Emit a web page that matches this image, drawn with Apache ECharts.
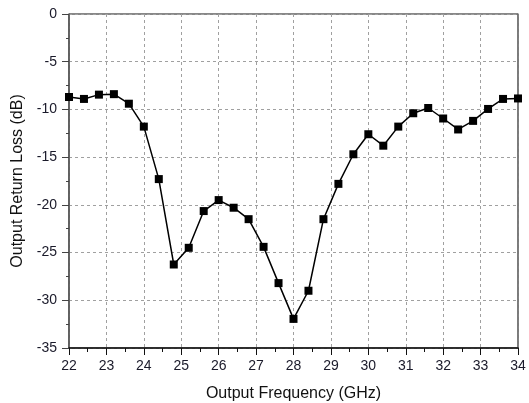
<!DOCTYPE html>
<html><head><meta charset="utf-8">
<script src="https://cdn.jsdelivr.net/npm/echarts@6/dist/echarts.min.js"></script>
<style>html,body{margin:0;padding:0;background:#fff}#c{width:529px;height:403px}</style>
</head><body><div id="c"></div>
<script>
const freq = [22,22.4,22.8,23.2,23.6,24,24.4,24.8,25.2,25.6,26,26.4,26.8,27.2,27.6,28,28.4,28.8,29.2,29.6,30,30.4,30.8,31.2,31.6,32,32.4,32.8,33.2,33.6,34];
const returnLoss = [-8.7,-8.9,-8.45,-8.4,-9.4,-11.8,-17.3,-26.25,-24.5,-20.65,-19.5,-20.3,-21.5,-24.4,-28.2,-31.95,-29.0,-21.5,-17.8,-14.7,-12.6,-13.8,-11.8,-10.4,-9.85,-10.95,-12.1,-11.2,-9.95,-8.9,-8.85];
const xTicks = {min:22, max:34, step:1};
const yTicks = {min:-35, max:0, step:5};
const chart = echarts.init(document.getElementById('c'));
const font = 'Liberation Sans, Arial, sans-serif';
chart.setOption({
  animation:false,
  grid:{left:69, right:11, top:14, bottom:55, outerBoundsMode:'none', containLabel:false, show:true, borderColor:'#111', borderWidth:1},
  xAxis:{type:'value', min:xTicks.min, max:xTicks.max, interval:xTicks.step,
    name:'Output Frequency (GHz)', nameLocation:'middle', nameGap:38,
    nameTextStyle:{fontFamily:font, fontSize:16, color:'#111'},
    axisLine:{show:true, onZero:false, lineStyle:{color:'#111', width:1.5}},
    axisTick:{show:true, inside:false, length:7, lineStyle:{color:'#111'}},
    minorTick:{show:true, splitNumber:2, length:4, lineStyle:{color:'#111'}},
    axisLabel:{fontFamily:font, fontSize:14, color:'#1a1a2a', margin:11},
    splitLine:{show:true, lineStyle:{color:'#a0a0a0', type:[3,3], width:1}}},
  yAxis:[{type:'value', min:yTicks.min, max:yTicks.max, interval:yTicks.step,
    name:'Output Return Loss (dB)', nameLocation:'middle', nameGap:42,
    nameTextStyle:{fontFamily:font, fontSize:16, color:'#111'},
    axisLine:{show:true, onZero:false, lineStyle:{color:'#555', width:1.5}},
    axisTick:{show:true, inside:false, length:7, lineStyle:{color:'#444'}},
    minorTick:{show:true, splitNumber:2, length:3, lineStyle:{color:'#444'}},
    axisLabel:{fontFamily:font, fontSize:14, color:'#1a1a2a', margin:12},
    splitLine:{show:true, lineStyle:{color:'#a0a0a0', type:[3,3], width:1}}},
   {type:'value', position:'right', min:yTicks.min, max:yTicks.max, interval:yTicks.step,
    axisLine:{show:true, lineStyle:{color:'#777', width:1.5}},
    axisTick:{show:false}, axisLabel:{show:false}, splitLine:{show:false}}],
  series:[{type:'line', data:freq.map((f,i)=>[f,returnLoss[i]]),
    symbol:'rect', symbolSize:8, showAllSymbol:true,
    lineStyle:{color:'#000', width:1.5}, itemStyle:{color:'#000'}}]
});
</script></body></html>
